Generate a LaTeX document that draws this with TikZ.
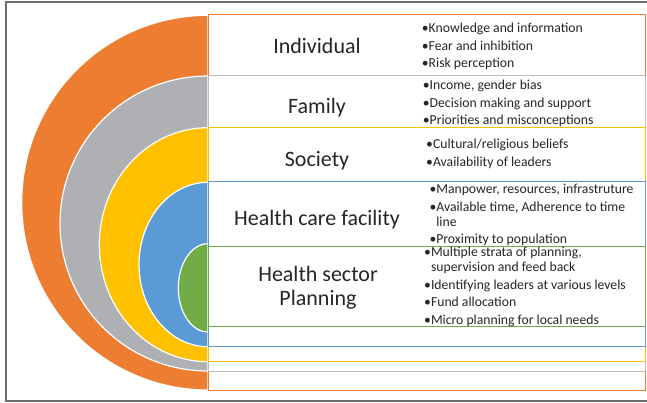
\documentclass[tikz,border=0pt]{standalone}
\usepackage{fontspec}
\setmainfont{Carlito}
\usepackage{tikz}
\pgfdeclarelayer{rings_layer}
\pgfdeclarelayer{boxes_layer}
\pgfsetlayers{rings_layer,boxes_layer,main}
\definecolor{RingOrange}{HTML}{ED7D31}
\definecolor{RingGray}{HTML}{AFB0B3}
\definecolor{RingYellow}{HTML}{FFC000}
\definecolor{RingBlue}{HTML}{5B9BD5}
\definecolor{RingGreen}{HTML}{70AD47}
\definecolor{FrameGray}{HTML}{6E6E6E}
\tikzstyle{ring}=[draw=white,line width=1.2pt]
\tikzstyle{levelbox}=[draw,fill=white,line width=1pt,minimum width=437pt,inner sep=0pt]
\tikzstyle{leveltitle}=[font=\fontsize{22}{23.5}\selectfont,align=center,text=black!85,anchor=base,inner sep=0pt]
\tikzstyle{levelitems}=[font=\fontsize{13.7}{15}\selectfont,align=left,text=black!85,anchor=north west,inner sep=0pt]
\newcommand{\gap}{\\[2.5pt]}

\begin{document}
\begin{tikzpicture}[x=1pt,y=1pt]
		\useasboundingbox (0,0) rectangle (647,402);
		\draw [draw=FrameGray,line width=1.3pt] (647,400) -| (6,1) -- (647,1);
		\begin{pgfonlayer}{rings_layer}
			\path [style=ring,fill=RingOrange] (208,386.7) arc[start angle=90,end angle=270,x radius=186.3,y radius=187.35] -- cycle;
			\path [style=ring,fill=RingGray] (208,326) arc[start angle=90,end angle=270,x radius=148,y radius=147.5] -- cycle;
			\path [style=ring,fill=RingYellow] (208,274.3) arc[start angle=90,end angle=270,x radius=108.7,y radius=117] -- cycle;
			\path [style=ring,fill=RingBlue] (208,219.7) arc[start angle=90,end angle=270,x radius=69,y radius=82.2] -- cycle;
			\path [style=ring,fill=RingGreen] (208,158.3) arc[start angle=90,end angle=270,x radius=29.7,y radius=44.15] -- cycle;
		\end{pgfonlayer}
		\begin{pgfonlayer}{boxes_layer}
			\node [style=levelbox,draw=RingOrange,minimum height=375pt] (individual_box) at (426.5,199.5) {};
			\node [style=levelbox,draw=RingGray!85,minimum height=295.5pt] (family_box) at (426.5,178.25) {};
			\node [style=levelbox,draw=RingYellow,minimum height=233.8pt] (society_box) at (426.5,157.6) {};
			\node [style=levelbox,draw=RingBlue,minimum height=164pt] (facility_box) at (426.5,138) {};
			\node [style=levelbox,draw=RingGreen,minimum height=80pt] (planning_box) at (426.5,115.5) {};
		\end{pgfonlayer}
		% titles
		\node [style=leveltitle] (individual) at (317,348.7) {Individual};
		\node [style=leveltitle] (family) at (317,288.7) {Family};
		\node [style=leveltitle] (society) at (317,235.3) {Society};
		\node [style=leveltitle] (facility) at (317,177) {Health care facility};
		\node [style=leveltitle] (planning) at (318,97) {Health sector\\Planning};
		% factors
		\node [style=levelitems] (individual_items) at (421.7,379) {•Knowledge and information\gap •Fear and inhibition\gap •Risk perception};
		\node [style=levelitems] (family_items) at (422.7,322) {•Income, gender bias\gap •Decision making and support\gap •Priorities and misconceptions};
		\node [style=levelitems] (society_items) at (426,263) {•Cultural/religious beliefs\gap •Availability of leaders};
		\node [style=levelitems] (facility_items) at (429.3,218) {•Manpower, resources, infrastruture\gap •Available time, Adherence to time\\\hphantom{•}line\gap •Proximity to population};
		\node [style=levelitems] (planning_items) at (424,155) {•Multiple strata of planning,\\\hphantom{•}supervision and feed back\gap •Identifying leaders at various levels\gap •Fund allocation\gap •Micro planning for local needs};
\end{tikzpicture}
\end{document}
